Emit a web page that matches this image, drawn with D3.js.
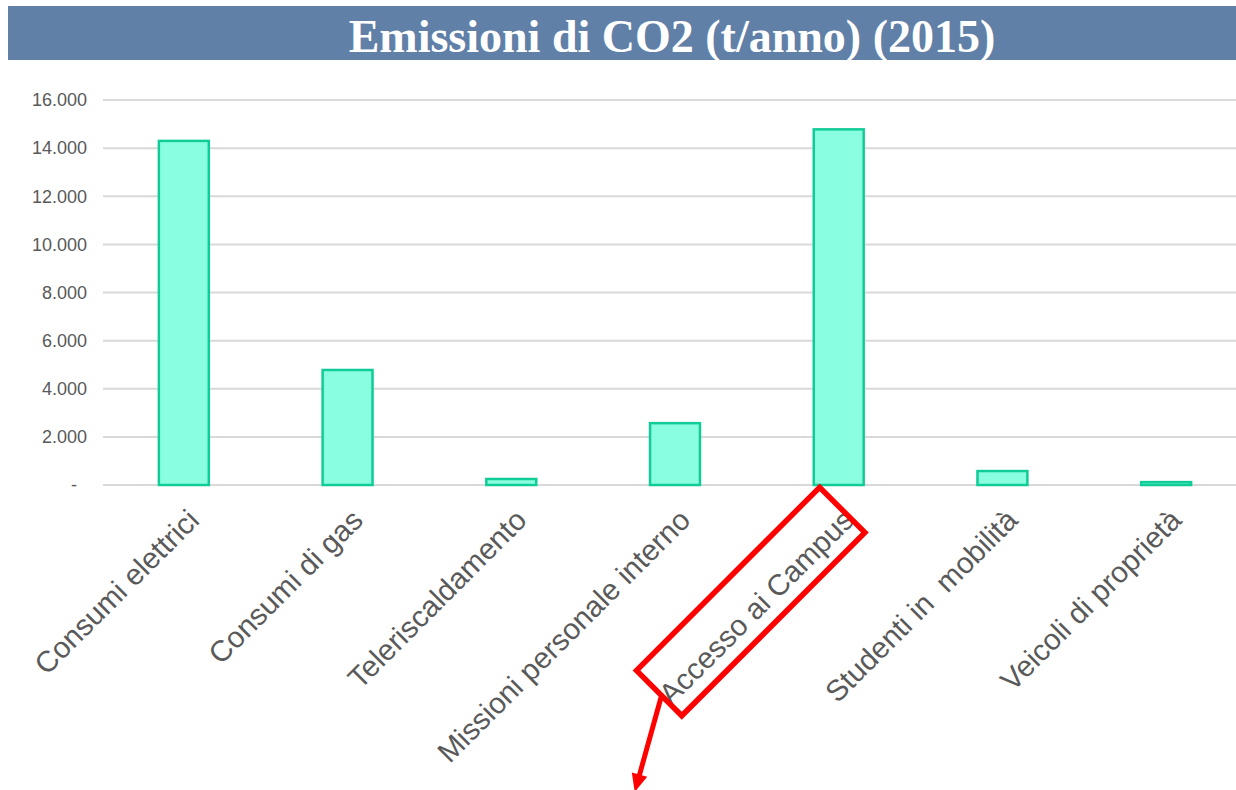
<!DOCTYPE html>
<html lang="it">
<head>
<meta charset="utf-8">
<script src="https://cdn.jsdelivr.net/npm/d3@7"></script>
<style>
  html, body { margin: 0; padding: 0; background: #ffffff; }
  svg { display: block; }
  text { white-space: pre; }
</style>
</head>
<body>
<svg id="chart" width="1236" height="790"></svg>
<script>
// Emissioni di CO2 per fonte, anno 2015 (t/anno)
const categories = [
  "Consumi elettrici",
  "Consumi di gas",
  "Teleriscaldamento",
  "Missioni personale interno",
  "Accesso ai Campus",
  "Studenti in  mobilità",
  "Veicoli di proprietà"
];
const emissions = [14300, 4780, 250, 2570, 14780, 580, 120];
const yTicks = [0, 2000, 4000, 6000, 8000, 10000, 12000, 14000, 16000];
const titleText = "Emissioni di CO2 (t/anno) (2015)";
const highlighted = "Accesso ai Campus";

const W = 1236, H = 790;
const svg = d3.select("#chart");

// Italian number format: dot as thousands separator, dash for zero
const it = d3.formatLocale({ decimal: ",", thousands: ".", grouping: [3], currency: ["€", ""] });
const fmt = it.format(",d");

// Title banner
svg.append("rect")
  .attr("x", 8).attr("y", 6).attr("width", W - 8).attr("height", 54)
  .attr("fill", "#6080a8");
svg.append("text")
  .attr("x", 672).attr("y", 52)
  .attr("text-anchor", "middle")
  .attr("font-family", "'Liberation Serif', 'Times New Roman', serif")
  .attr("font-weight", "bold")
  .attr("font-size", 46)
  .attr("fill", "#ffffff")
  .text(titleText);

// Scales
const x = d3.scaleBand()
  .domain(categories)
  .range([102, 1248])
  .paddingInner(0.695)
  .paddingOuter(0.3475);

const y = d3.scaleLinear().domain([0, 16000]).range([485, 100]);

// Horizontal gridlines
svg.append("g")
  .selectAll("line")
  .data(yTicks)
  .join("line")
  .attr("x1", 103).attr("x2", W)
  .attr("y1", d => y(d)).attr("y2", d => y(d))
  .attr("stroke", "#d9d9d9")
  .attr("stroke-width", 2);

// Y axis labels
const yAxis = d3.axisLeft(y)
  .tickValues(yTicks)
  .tickSize(0)
  .tickPadding(0)
  .tickFormat(d => d === 0 ? "-  " : fmt(d));
svg.append("g")
  .attr("transform", "translate(87,0)")
  .call(yAxis)
  .call(g => g.select(".domain").remove())
  .call(g => g.selectAll("text")
    .attr("font-family", "'Liberation Sans', Arial, sans-serif")
    .attr("font-size", 18)
    .attr("fill", "#595959"));

// Bars
svg.append("g")
  .selectAll("rect")
  .data(categories.map((c, i) => ({ c, v: emissions[i] })))
  .join("rect")
  .attr("x", d => x(d.c))
  .attr("y", d => y(d.v))
  .attr("width", x.bandwidth())
  .attr("height", d => y(0) - y(d.v))
  .attr("fill", "#8affdf")
  .attr("stroke", "#10cc96")
  .attr("stroke-width", 2.5);

// Category labels, rotated 45°
const labelDx = 17, labelY = 522;
const cx = c => x(c) + x.bandwidth() / 2;
svg.append("g")
  .selectAll("text")
  .data(categories)
  .join("text")
  .attr("transform", c => `translate(${cx(c) + labelDx},${labelY}) rotate(-45)`)
  .attr("text-anchor", "end")
  .attr("font-family", "'Liberation Sans', Arial, sans-serif")
  .attr("font-size", 29.5)
  .attr("fill", "#595959")
  .text(c => c);

// Red callout around the highlighted category label
const hl = svg.append("g")
  .attr("transform", `translate(${cx(highlighted) + labelDx},${labelY}) rotate(-45)`);
hl.append("rect")
  .attr("x", -260).attr("y", -50)
  .attr("width", 259).attr("height", 64)
  .attr("fill", "none")
  .attr("stroke", "#ff0000")
  .attr("stroke-width", 5.5)
  .attr("stroke-linejoin", "miter");

// Arrow pointing down from the callout
const ax = cx(highlighted);
const ax1 = ax - 177, ay1 = 695;
const ax2 = ax - 204, ay2 = 792;
const ang = Math.atan2(ay2 - ay1, ax2 - ax1);
const headLen = 18, headHalf = 8;
svg.append("line")
  .attr("x1", ax1).attr("y1", ay1)
  .attr("x2", ax2 - Math.cos(ang) * (headLen - 2)).attr("y2", ay2 - Math.sin(ang) * (headLen - 2))
  .attr("stroke", "#ff0000")
  .attr("stroke-width", 5);
const bx = ax2 - Math.cos(ang) * headLen, by = ay2 - Math.sin(ang) * headLen;
const px = -Math.sin(ang) * headHalf, py = Math.cos(ang) * headHalf;
svg.append("path")
  .attr("d", `M${ax2},${ay2} L${bx + px},${by + py} L${bx - px},${by - py} Z`)
  .attr("fill", "#ff0000");
</script>
</body>
</html>
